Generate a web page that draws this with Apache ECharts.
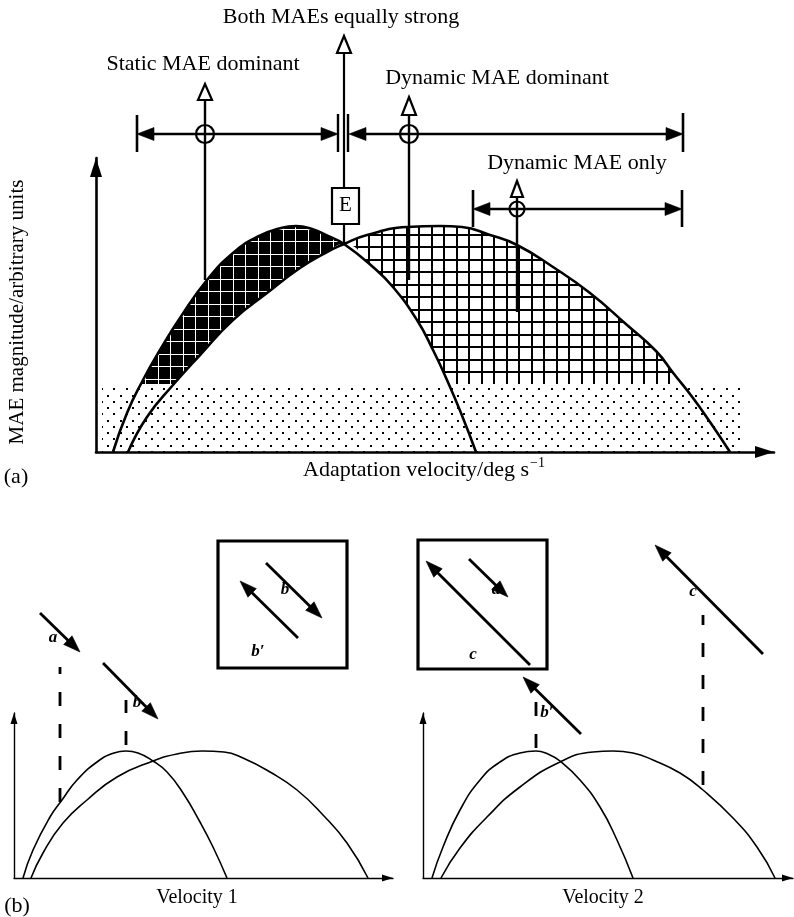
<!DOCTYPE html>
<html><head><meta charset="utf-8">
<script src="https://cdn.jsdelivr.net/npm/echarts@6/dist/echarts.min.js"></script>
<style>html,body{margin:0;padding:0;background:#fff}#c{width:794px;height:917px}</style>
</head><body><div id="c"></div>
<script>
// ===== Panel (a): MAE magnitude (arbitrary units) vs adaptation velocity =====
const staticMAE = [[17,0],[31,39],[47,72],[64,102],[84,134],[111,172],[137,199],[161,215],[185,224],[200,226],[216,223],[232,216],[248,208],[277,185],[297,165],[321,132],[337,102],[351,72],[365,39],[380,0]];
const dynamicMAE = [[32,0],[51,35],[77,67],[104,97],[137,132],[171,159],[204,184],[231,200],[248,208],[271,217],[311,225],[344,226],[366,225],[394,217],[421,207],[457,185],[494,159],[531,127],[560,101],[578,78],[597,54],[614,30],[634,0]];
const equalPoint = [248, 208];
const noiseBandSpan = [6, 647];
const noiseBandLevel = 68;
const dominanceRowY = 318;
const staticDominantRange = [41, 242];
const dynamicDominantRange = [253, 587];
const equalBars = [242, 252];
const dynamicOnlyRowY = 243;
const dynamicOnlyRange = [377, 586];
const pointerX = [109, 248, 313, 421];
const pointerTip = [368, 416, 355, 271];
const pointerFoot = [172, 208, 172, 140];
const eBox = [236, 263, 228, 264];
const labelTextsA = ['Both MAEs equally strong', 'Static MAE dominant', 'Dynamic MAE dominant', 'Dynamic MAE only'];
const labelXA = [245, 107, 401, 481];
const labelYA = [435, 388, 374, 289];

// ===== Panel (b): two adaptation velocities =====
const staticMAE1 = [[9,0],[19,28],[36,61],[48,78],[63,98],[83,116],[100,125],[112,127],[124,125],[139,117],[153,106],[169,85],[186,56],[199,31],[213,0]];
const dynamicMAE1 = [[17,0],[29,25],[49,55],[73,78],[103,101],[139,117],[163,124],[188,127],[210,126],[229,120],[256,106],[283,88],[309,63],[333,35],[354,0]];
const staticMAE2 = [[9,0],[20,31],[37,68],[57,98],[77,116],[97,125],[113,127],[125,124],[137,117],[157,98],[177,71],[194,38],[210,0]];
const dynamicMAE2 = [[18,0],[37,30],[64,61],[97,91],[137,116],[170,126],[190,127],[210,125],[230,118],[257,105],[280,88],[310,60],[334,31],[352,0]];
const motionB1 = [
  {from:[26,265], to:[66,226], label:'a', at:[39,240]},
  {from:[89,215], to:[144,159], label:'b', at:[123,175]},
  {from:[252,315], to:[308,260], label:'b', at:[271,288]},
  {from:[284,240], to:[226,297], label:'b\u2032', at:[244,226]}
];
const dropB1 = [[46,76,211],[112,133,178]];
const insetB1 = [204, 333, 210, 337];
const motionB2 = [
  {from:[107,213], to:[3,317], label:'c', at:[50,223]},
  {from:[46,319], to:[85,281], label:'a', at:[73,288]},
  {from:[158,144], to:[100,201], label:'b\u2032', at:[124,165]},
  {from:[340,224], to:[232,333], label:'c', at:[270,286]}
];
const dropB2 = [[113,130,176],[280,93,263]];
const insetB2 = [-5, 124, 209, 338];

const SERIF = '"Liberation Serif","Times New Roman",serif';

function pat(draw) {
  const cv = document.createElement('canvas'); cv.width = 25; cv.height = 25;
  draw(cv.getContext('2d')); return {image: cv, repeat: 'repeat'};
}
const lightHatch = pat(c => { c.fillStyle='#fff'; c.fillRect(0,0,25,25); c.fillStyle='#000';
  c.fillRect(6,0,2,25); c.fillRect(18,0,2,25); c.fillRect(0,9,25,2); c.fillRect(0,21,25,2); });
const darkHatch = pat(c => { c.fillStyle='#000'; c.fillRect(0,0,25,25); c.fillStyle='#fff';
  c.fillRect(8,0,1,25); c.fillRect(20,0,1,25); c.fillRect(0,4,25,1); c.fillRect(0,16,25,1); });
const dotPattern = pat(c => { c.fillStyle='#fff'; c.fillRect(0,0,25,25); c.fillStyle='#000';
  [[0,0],[12,0],[6,6],[19,6],[0,12],[12,12],[6,19],[19,19]].forEach(p => c.fillRect(p[0]+1,p[1]+1,2,2)); });

function seg(p, q, w, dash) {
  return {type:'line', shape:{x1:p[0],y1:p[1],x2:q[0],y2:q[1]}, style:{stroke:'#000', lineWidth:w, lineDash: dash || null}};
}
function head(tip, from, len, hw, hollow) {
  const dx = tip[0]-from[0], dy = tip[1]-from[1], d = Math.hypot(dx,dy), ux = dx/d, uy = dy/d;
  const bx = tip[0]-ux*len, by = tip[1]-uy*len;
  return {type:'polygon', shape:{points:[[tip[0],tip[1]],[bx-uy*hw,by+ux*hw],[bx+uy*hw,by-ux*hw]]},
    style:{fill: hollow ? '#fff' : '#000', stroke:'#000', lineWidth: hollow ? 2.2 : 0.6, lineJoin:'miter'}};
}
function arrow(from, tip, w, len, hw) {
  const dx = tip[0]-from[0], dy = tip[1]-from[1], d = Math.hypot(dx,dy);
  const base = [tip[0]-dx/d*len*0.7, tip[1]-dy/d*len*0.7];
  return [seg(from, base, w), head(tip, from, len, hw)];
}
function txt(p, s, font, align, rot) {
  return {type:'text', x:p[0], y:p[1], rotation: rot || 0,
    style:{text:s, font:font, fill:'#000', align: align || 'center', verticalAlign:'middle',
      textAlign: align || 'center', textVerticalAlign:'middle'}};
}

function renderNoise(params, api) {
  const a = api.coord([noiseBandSpan[0], noiseBandLevel]), b = api.coord([noiseBandSpan[1], 0]);
  return {type:'rect', shape:{x:a[0], y:a[1], width:b[0]-a[0], height:b[1]-a[1]}, style:{fill: dotPattern}};
}

function renderA(params, api) {
  const P = (x, y) => api.coord([x, y]);
  const c = [];
  const F22 = '22px ' + SERIF;
  const y = dominanceRowY;
  c.push(seg(P(staticDominantRange[0], y-18), P(staticDominantRange[0], y+19), 2.6));
  c.push(seg(P(staticDominantRange[0]+8, y), P(staticDominantRange[1]-8, y), 2.4));
  c.push(head(P(staticDominantRange[0], y), P(staticDominantRange[0]+30, y), 17, 6.5));
  c.push(head(P(staticDominantRange[1], y), P(staticDominantRange[1]-30, y), 17, 6.5));
  equalBars.forEach(x => c.push(seg(P(x, y-18), P(x, y+20), 2.4)));
  c.push(seg(P(dynamicDominantRange[0]+8, y), P(dynamicDominantRange[1]-8, y), 2.4));
  c.push(head(P(dynamicDominantRange[0], y), P(dynamicDominantRange[0]+30, y), 17, 6.5));
  c.push(head(P(dynamicDominantRange[1], y), P(dynamicDominantRange[1]-30, y), 17, 6.5));
  c.push(seg(P(dynamicDominantRange[1], y-18), P(dynamicDominantRange[1], y+21), 2.6));
  const y2 = dynamicOnlyRowY;
  c.push(seg(P(dynamicOnlyRange[0], y2-18), P(dynamicOnlyRange[0], y2+19), 2.6));
  c.push(seg(P(dynamicOnlyRange[1], y2-18), P(dynamicOnlyRange[1], y2+19), 2.6));
  c.push(seg(P(dynamicOnlyRange[0]+8, y2), P(dynamicOnlyRange[1]-8, y2), 2.4));
  c.push(head(P(dynamicOnlyRange[0], y2), P(dynamicOnlyRange[0]+30, y2), 17, 6.5));
  c.push(head(P(dynamicOnlyRange[1], y2), P(dynamicOnlyRange[1]-30, y2), 17, 6.5));
  const hl = [16, 17, 18, 16];
  pointerX.forEach((x, i) => {
    const base = pointerTip[i] - hl[i];
    if (i === 1) {
      c.push(seg(P(x, base), P(x, eBox[3]), 2.2));
      c.push(seg(P(x, eBox[2]), P(x, pointerFoot[i]), 2.2));
    } else {
      c.push(seg(P(x, base), P(x, pointerFoot[i]), 2.4));
    }
    c.push(head(P(x, pointerTip[i]), P(x, base-10), hl[i], i === 3 ? 6 : 7, true));
  });
  [[pointerX[0], y, 9], [pointerX[2], y, 9], [pointerX[3], y2, 7.5]].forEach(q => {
    const p = P(q[0], q[1]);
    c.push({type:'circle', shape:{cx:p[0], cy:p[1], r:q[2]}, style:{fill:null, stroke:'#000', lineWidth:2.2}});
  });
  const b0 = P(eBox[0], eBox[3]), b1 = P(eBox[1], eBox[2]);
  c.push({type:'rect', shape:{x:b0[0], y:b0[1], width:b1[0]-b0[0], height:b1[1]-b0[1]}, style:{fill:'#fff', stroke:'#000', lineWidth:2.2}});
  c.push(txt(P((eBox[0]+eBox[1])/2, (eBox[2]+eBox[3])/2+1), 'E', '21px ' + SERIF));
  labelTextsA.forEach((s, i) => c.push(txt(P(labelXA[i], labelYA[i]), s, F22)));
  c.push(txt(P(-79, 140), 'MAE magnitude/arbitrary units', '21px ' + SERIF, 'center', Math.PI/2));
  const mc = document.createElement('canvas').getContext('2d'); mc.font = F22;
  const main = 'Adaptation velocity/deg s';
  const w = mc.measureText(main).width;
  const p0 = P(207, -18);
  c.push(txt(p0, main, F22, 'left'));
  c.push(txt([p0[0] + w + 1, p0[1] - 7], '\u22121', '14px ' + SERIF, 'left'));
  c.push(txt(P(-80, -25), '(a)', F22));
  return {type:'group', children:c};
}

function makeRenderB(motion, drops, inset, caption, extra) {
  return function (params, api) {
    const P = (x, y) => api.coord([x, y]);
    const c = [];
    const FB = 'bold italic 17px ' + SERIF;
    drops.forEach(d => c.push(seg(P(d[0], d[1]), P(d[0], d[2]), 2.8, [14, 18])));
    const a = P(inset[0], inset[3]), b = P(inset[1], inset[2]);
    c.push({type:'rect', shape:{x:a[0], y:a[1], width:b[0]-a[0], height:b[1]-a[1]}, style:{fill:null, stroke:'#000', lineWidth:3.2}});
    motion.forEach(m => c.push(txt(P(m.at[0], m.at[1]), m.label, FB)));
    motion.forEach(m => arrow(P(m.from[0], m.from[1]), P(m.to[0], m.to[1]), 2.8, 17, 6).forEach(e => c.push(e)));
    c.push(txt(P(caption[1], caption[2]), caption[0], '20px ' + SERIF));
    if (extra) c.push(txt(P(extra[1], extra[2]), extra[0], '22px ' + SERIF));
    return {type:'group', children:c};
  };
}

function axes(gi, xmax, ymax, lw, sw, sl) {
  const common = {gridIndex:gi, type:'value', min:0, z:10, axisTick:{show:false}, axisLabel:{show:false}, splitLine:{show:false},
    axisLine:{show:true, onZero:true, lineStyle:{color:'#000', width:lw}, symbol:['none','triangle'], symbolSize:[sw, sl], symbolOffset:[0, -sl/2]}};
  return [Object.assign({max:xmax}, common), Object.assign({max:ymax}, common)];
}
const ax0 = axes(0, 678, 294, 2.6, 12, 19);
const ax1 = axes(1, 379, 165, 1.4, 7, 11);
const ax2 = axes(2, 370, 165, 1.4, 7, 11);

function curve(data, gi, z, extra) {
  return Object.assign({type:'line', xAxisIndex:gi, yAxisIndex:gi, data:data, smooth:0.5, symbol:'none', showSymbol:false, silent:true, z:z}, extra);
}
const hidden = {lineStyle:{opacity:0, width:0}};
const minCurve = dynamicMAE.filter(p => p[0] <= equalPoint[0]).concat(staticMAE.filter(p => p[0] > equalPoint[0]));

const chart = echarts.init(document.getElementById('c'), null, {renderer:'canvas', width:794, height:917});
chart.setOption({
  animation:false,
  backgroundColor:'#fff',
  grid:[
    {left:96, top:158, width:678, height:294},
    {left:14, top:713, width:379, height:165},
    {left:423, top:713, width:370, height:165}
  ],
  xAxis:[ax0[0], ax1[0], ax2[0]],
  yAxis:[ax0[1], ax1[1], ax2[1]],
  series:[
    curve(dynamicMAE, 0, 1, Object.assign({areaStyle:{color:lightHatch, opacity:1}}, hidden)),
    curve(staticMAE, 0, 2, Object.assign({areaStyle:{color:darkHatch, opacity:1}}, hidden)),
    curve(minCurve, 0, 3, Object.assign({areaStyle:{color:'#fff', opacity:1}}, hidden)),
    {type:'custom', xAxisIndex:0, yAxisIndex:0, data:[[0,0]], z:4, silent:true, clip:false, renderItem:renderNoise},
    curve(staticMAE, 0, 5, {lineStyle:{color:'#000', width:2.6}}),
    curve(dynamicMAE, 0, 5, {lineStyle:{color:'#000', width:2.6}}),
    {type:'custom', xAxisIndex:0, yAxisIndex:0, data:[[0,0]], z:6, silent:true, clip:false, renderItem:renderA},
    curve(staticMAE1, 1, 5, {lineStyle:{color:'#000', width:1.6}}),
    curve(dynamicMAE1, 1, 5, {lineStyle:{color:'#000', width:1.6}}),
    curve(staticMAE2, 2, 5, {lineStyle:{color:'#000', width:1.6}}),
    curve(dynamicMAE2, 2, 5, {lineStyle:{color:'#000', width:1.6}}),
    {type:'custom', xAxisIndex:1, yAxisIndex:1, data:[[0,0]], z:6, silent:true, clip:false,
      renderItem: makeRenderB(motionB1, dropB1, insetB1, ['Velocity 1', 183, -20], ['(b)', 3, -28])},
    {type:'custom', xAxisIndex:2, yAxisIndex:2, data:[[0,0]], z:6, silent:true, clip:false,
      renderItem: makeRenderB(motionB2, dropB2, insetB2, ['Velocity 2', 180, -20], null)}
  ]
});
</script></body></html>
